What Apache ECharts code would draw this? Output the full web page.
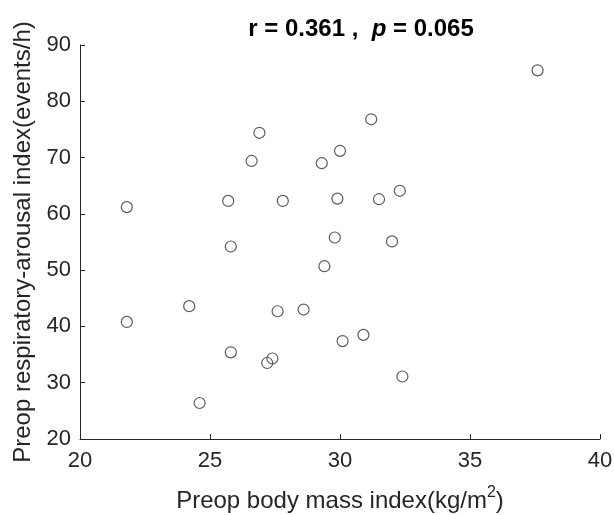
<!DOCTYPE html>
<html><head><meta charset="utf-8">
<script src="https://cdn.jsdelivr.net/npm/echarts@6/dist/echarts.min.js"></script>
<style>html,body{margin:0;padding:0;background:#fff}#c{width:614px;height:515px}</style>
</head><body><div id="c"></div>
<script>
const bmi = [21.8,21.8,24.2,24.6,25.7,25.8,25.8,26.6,26.9,27.2,27.4,27.6,27.8,28.6,29.3,29.4,29.8,29.9,30.0,30.1,30.9,31.2,31.5,32.0,32.3,32.4,37.6];
const rai = [61.2,40.8,43.6,26.4,62.3,54.2,35.4,69.4,74.4,33.5,34.3,42.7,62.3,43.0,69.0,50.7,55.8,62.7,71.2,37.4,38.5,76.8,62.6,55.1,64.1,31.1,85.5];
const xTicks = [20,25,30,35,40];
const yTicks = [20,30,40,50,60,70,80,90];
const data = bmi.map((v,i)=>[v,rai[i]]);
const FONT = 'Liberation Sans, Arial, sans-serif';
const axisCol = '#262626';
const chart = echarts.init(document.getElementById('c'));
chart.setOption({
  animation:false,
  title:{
    text:'{b|r = 0.361 ,  }{i|p}{b| = 0.065}',
    left:356, top:12, textAlign:'center',
    textStyle:{rich:{
      b:{fontFamily:FONT,fontSize:24,fontWeight:'bold',color:'#000'},
      i:{fontFamily:FONT,fontSize:24,fontWeight:'bold',fontStyle:'italic',color:'#000'}
    }}
  },
  grid:{left:80,right:14,top:45,bottom:76,containLabel:false,outerBoundsMode:'none'},
  xAxis:{
    type:'value',min:xTicks[0],max:xTicks[xTicks.length-1],interval:5,
    name:'{n|Preop body mass index(kg/m}{s|2}{n|)}',
    nameLocation:'middle',nameGap:46,
    nameTextStyle:{rich:{
      n:{fontFamily:FONT,fontSize:24,color:axisCol,verticalAlign:'bottom',lineHeight:28},
      s:{fontFamily:FONT,fontSize:16,color:axisCol,verticalAlign:'top',padding:[0,0,14,0],lineHeight:28}
    }},
    axisLine:{show:true,lineStyle:{color:axisCol,width:1}},
    axisTick:{show:true,inside:true,length:5,lineStyle:{color:axisCol}},
    axisLabel:{fontFamily:FONT,fontSize:22,color:axisCol,margin:11},
    splitLine:{show:false}
  },
  yAxis:{
    type:'value',min:yTicks[0],max:yTicks[yTicks.length-1],interval:10,
    name:'Preop respiratory-arousal index(events/h)',
    nameLocation:'middle',nameGap:33,
    nameTextStyle:{fontFamily:FONT,fontSize:24,color:axisCol},
    axisLine:{show:true,lineStyle:{color:axisCol,width:1}},
    axisTick:{show:true,inside:true,length:5,lineStyle:{color:axisCol}},
    axisLabel:{fontFamily:FONT,fontSize:22,color:axisCol,margin:9},
    splitLine:{show:false}
  },
  series:[{
    type:'scatter',data:data,symbol:'circle',symbolSize:11,
    itemStyle:{color:'rgba(255,255,255,0)',borderColor:'#333',borderWidth:1.2}
  }]
});
</script></body></html>
